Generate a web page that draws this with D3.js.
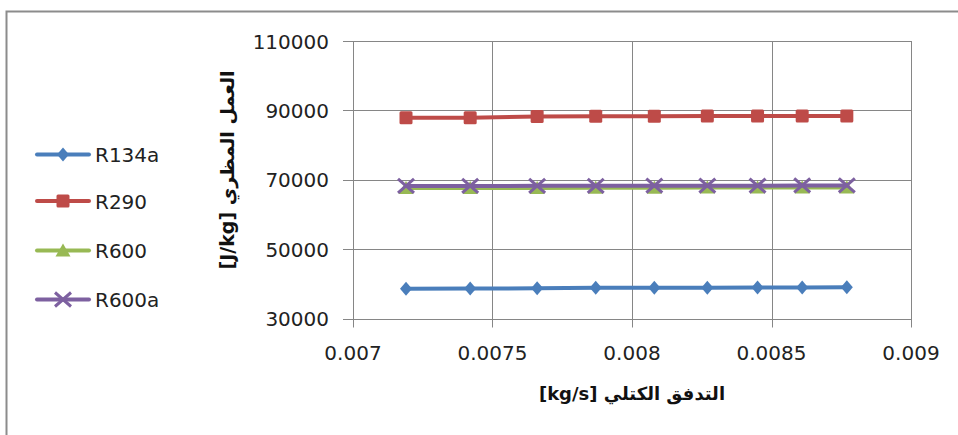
<!DOCTYPE html>
<html>
<head>
<meta charset="utf-8">
<script src="https://cdn.jsdelivr.net/npm/d3@7"></script>
<style>
  body { margin: 0; background: #fff; }
  svg { display: block; }
</style>
</head>
<body>
<div id="chart"></div>
<script>
// mass flow [kg/s]
var flowRates = [0.00719, 0.00742, 0.00766, 0.00787, 0.00808, 0.00827, 0.00845, 0.00861, 0.00877]

var workR134a = [38600, 38650, 38700, 38850, 38900, 38900, 38950, 38950, 39000]
var workR290 = [87900, 87900, 88200, 88300, 88300, 88350, 88400, 88400, 88400]
var workR600 = [67600, 67600, 67650, 67700, 67700, 67750, 67750, 67800, 67800]
var workR600a = [68200, 68200, 68250, 68250, 68300, 68300, 68300, 68350, 68350]

var seriesNames = ["R134a", "R290", "R600", "R600a"]
var xTicks = [0.007, 0.0075, 0.008, 0.0085, 0.009]
var yTicks = [30000, 50000, 70000, 90000, 110000]

var xTitle = "[kg/s] التدفق الكتلي"
var yTitle = "[J/kg] العمل المظري"

var series = [
  { name: seriesNames[0], values: workR134a, color: "#4a7ebb", marker: "diamond" },
  { name: seriesNames[1], values: workR290, color: "#be4b48", marker: "square" },
  { name: seriesNames[2], values: workR600, color: "#98b954", marker: "triangle" },
  { name: seriesNames[3], values: workR600a, color: "#7d60a0", marker: "cross" }
]

var width = 958, height = 435
var plot = { left: 353, right: 911, top: 41, bottom: 318.5 }

var svg = d3.select("#chart").append("svg")
  .attr("width", width)
  .attr("height", height)

// outer chart border (only top and left visible)
svg.append("path")
  .attr("d", "M6.5,440 L6.5,11.5 L960,11.5")
  .attr("fill", "none")
  .attr("stroke", "#8c8c8c")
  .attr("stroke-width", 2)

var x = d3.scaleLinear().domain([0.007, 0.009]).range([plot.left, plot.right])
var y = d3.scaleLinear().domain([30000, 110000]).range([plot.bottom, plot.top])

var grid = svg.append("g").attr("stroke", "#868686").attr("stroke-width", 1)

// horizontal gridlines + left ticks
grid.selectAll("line.h")
  .data(yTicks)
  .enter().append("line")
  .attr("x1", plot.left - 10)
  .attr("x2", plot.right)
  .attr("y1", function(d) { return Math.round(y(d)) + 0.5 })
  .attr("y2", function(d) { return Math.round(y(d)) + 0.5 })

// vertical gridlines + bottom ticks
grid.selectAll("line.v")
  .data(xTicks)
  .enter().append("line")
  .attr("x1", function(d) { return Math.round(x(d)) + 0.5 })
  .attr("x2", function(d) { return Math.round(x(d)) + 0.5 })
  .attr("y1", plot.top)
  .attr("y2", plot.bottom + 9)

var labelFont = "'DejaVu Sans', sans-serif"

// Y tick labels
svg.append("g").selectAll("text")
  .data(yTicks)
  .enter().append("text")
  .attr("x", 329)
  .attr("y", function(d) { return y(d) + 7.5 })
  .attr("text-anchor", "end")
  .style("font-family", labelFont)
  .style("font-size", "20px")
  .style("fill", "#222")
  .text(function(d) { return d })

// X tick labels
svg.append("g").selectAll("text")
  .data(xTicks)
  .enter().append("text")
  .attr("x", function(d) { return x(d) })
  .attr("y", 360)
  .attr("text-anchor", "middle")
  .style("font-family", labelFont)
  .style("font-size", "20px")
  .style("fill", "#222")
  .text(function(d) { return d })

// axis titles
svg.append("text")
  .attr("x", (plot.left + plot.right) / 2)
  .attr("y", 400)
  .attr("text-anchor", "middle")
  .style("font-family", labelFont)
  .style("font-weight", "bold")
  .style("font-size", "18px")
  .style("fill", "#111")
  .text(xTitle)

svg.append("text")
  .attr("transform", "translate(234,170) rotate(-90)")
  .attr("text-anchor", "middle")
  .style("font-family", labelFont)
  .style("font-weight", "bold")
  .style("font-size", "19px")
  .style("fill", "#111")
  .text(yTitle)

// marker drawing
function drawMarker(g, type, color) {
  if (type === "diamond") {
    g.append("path").attr("d", "M0,-7 L6,0 L0,7 L-6,0 Z").attr("fill", color)
  } else if (type === "square") {
    g.append("rect").attr("x", -6.5).attr("y", -6.5).attr("width", 13).attr("height", 13)
      .attr("rx", 1.5).attr("fill", color)
  } else if (type === "triangle") {
    g.append("path").attr("d", "M0,-7 L7.5,6 L-7.5,6 Z").attr("fill", color)
  } else if (type === "cross") {
    g.append("path").attr("d", "M-8,-7 L8,7 M-8,7 L8,-7")
      .attr("stroke", color).attr("stroke-width", 3).attr("fill", "none")
  }
}

var line = d3.line()
  .x(function(d) { return x(d[0]) })
  .y(function(d) { return y(d[1]) })

series.forEach(function(s) {
  var pts = d3.zip(flowRates, s.values)
  var g = svg.append("g")
  g.append("path")
    .datum(pts)
    .attr("d", line)
    .attr("fill", "none")
    .attr("stroke", s.color)
    .attr("stroke-width", 4)
    .attr("stroke-linecap", "round")
  pts.forEach(function(p) {
    var m = g.append("g").attr("transform", "translate(" + x(p[0]) + "," + y(p[1]) + ")")
    drawMarker(m, s.marker, s.color)
  })
})

// legend
var legendY = [154.5, 201, 250.5, 299.5]
series.forEach(function(s, i) {
  var g = svg.append("g").attr("transform", "translate(0," + legendY[i] + ")")
  g.append("line")
    .attr("x1", 37).attr("x2", 89)
    .attr("stroke", s.color)
    .attr("stroke-width", 4)
    .attr("stroke-linecap", "round")
  var m = g.append("g").attr("transform", "translate(63,0)")
  drawMarker(m, s.marker, s.color)
  g.append("text")
    .attr("x", 95)
    .attr("y", 7.5)
    .style("font-family", labelFont)
    .style("font-size", "20px")
    .style("fill", "#222")
    .text(s.name)
})
</script>
</body>
</html>
